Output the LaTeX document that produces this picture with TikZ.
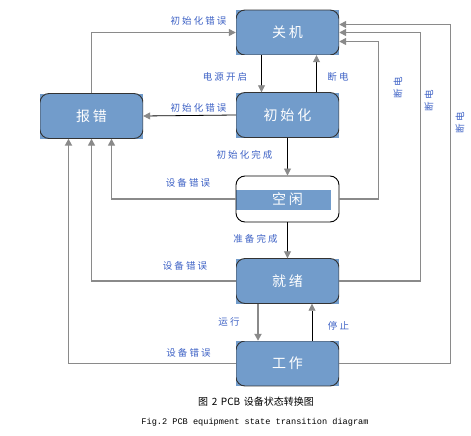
\documentclass[tikz,border=0pt]{standalone}
\usepackage{fontspec}
\setmainfont{Liberation Serif}
\setmonofont{Liberation Mono}
\newfontfamily\cjk[WordSpace=1.6]{Noto Sans CJK SC}
\newfontfamily\boxfont[LetterSpace=20]{Noto Sans CJK SC}
\newfontfamily\labfont[LetterSpace=22]{Noto Sans CJK SC}
\usetikzlibrary{shapes,arrows.meta}
\definecolor{boxblue}{HTML}{729CCB}
\definecolor{labblue}{HTML}{3F63C6}
\definecolor{linegray}{HTML}{8A8A8A}

\tikzset{
  state/.style={rectangle, fill=boxblue, minimum width=103pt, minimum height=45pt,
    inner sep=0pt, text=white, font=\boxfont\fontsize{14}{14}\selectfont,
    path picture={\draw[rounded corners=9pt, line width=0.9pt, black!80]
      (path picture bounding box.south west) rectangle (path picture bounding box.north east);}},
  idle/.style={rectangle, draw=black, line width=0.9pt, rounded corners=9pt,
    minimum width=103pt, minimum height=46pt, inner sep=0pt, text=white,
    font=\boxfont\fontsize{14}{14}\selectfont,
    path picture={\fill[boxblue, sharp corners] ([yshift=9pt]path picture bounding box.west)
      rectangle ([xshift=-8pt,yshift=-11pt]path picture bounding box.east);}},
  lab/.style={text=labblue, font=\labfont\fontsize{9.5}{10}\selectfont, inner sep=0pt},
  graybar/.style={draw=linegray, line width=1.4pt, -{Triangle[width=7pt,length=7pt,color=linegray]}},
  blackbar/.style={draw=black, line width=0.8pt, -{Triangle[width=7pt,length=7pt,color=linegray]}},
}

\begin{document}
\begin{tikzpicture}[x=1pt,y=-1pt]
  \fill[white] (0,0) rectangle (471,436);
  \useasboundingbox (0,0) rectangle (471,436);

  % states
  \node[state] (guanji)   at (287.5,32.5)  {关机};
  \node[state] (chushi)   at (287.5,115)   {初始化};
  \node[state] (baocuo)   at (91.5,116)    {报错};
  \node[idle]  (kongxian) at (287.5,199)   {空闲};
  \node[state] (jiuxu)    at (287.5,281)   {就绪};
  \node[state] (gongzuo)  at (287.5,363.5) {工作};

  % transitions
  \draw[graybar] (baocuo.north) |- (guanji.west);
  \draw[blackbar] ([xshift=-26pt]guanji.south) -- ([xshift=-26pt]chushi.north);
  \draw[blackbar] ([xshift=29pt]chushi.north) -- ([xshift=29pt]guanji.south);
  \draw[blackbar] (chushi.west) -- (baocuo.east);
  \draw[blackbar] (chushi.south) -- (kongxian.north);
  \draw[graybar] (kongxian.west) -| ([xshift=20pt]baocuo.south);
  \draw[graybar] (kongxian.east) -- ++(39,0) |- ([yshift=-9pt]guanji.east);
  \draw[blackbar] (kongxian.south) -- (jiuxu.north);
  \draw[graybar] (jiuxu.west) -| (baocuo.south);
  \draw[graybar] (jiuxu.east) -- ++(81,0) |- (guanji.east);
  \draw[graybar, line width=2pt] ([xshift=-29.5pt]jiuxu.south) -- ([xshift=-29.5pt]gongzuo.north);
  \draw[blackbar] ([xshift=24.5pt]gongzuo.north) -- ([xshift=24.5pt]jiuxu.south);
  \draw[graybar, line width=1.9pt] (gongzuo.west) -| ([xshift=-23pt]baocuo.south);
  \draw[graybar] (gongzuo.east) -- ++(111,0) |- ([yshift=8pt]guanji.east);

  % labels
  \node[lab] (initerr1) at (198.5,21)  {初始化错误};
  \node[lab] (poweron)  at (225,77)    {电源开启};
  \node[lab] (cut1)     at (338,77)    {断电};
  \node[lab] (initerr2) at (198.5,108) {初始化错误};
  \node[lab] (initok)   at (244.5,155) {初始化完成};
  \node[lab] (deverr1)  at (188,183)   {设备错误};
  \node[lab] (ready)    at (255.5,239) {准备完成};
  \node[lab] (deverr2)  at (185,266)   {设备错误};
  \node[lab] (run)      at (229,322)   {运行};
  \node[lab] (stop)     at (338.5,326) {停止};
  \node[lab] (deverr3)  at (188.5,353) {设备错误};
  \node[lab, rotate=90] (cut2) at (398,88)  {断电};
  \node[lab, rotate=90] (cut3) at (429,101) {断电};
  \node[lab, rotate=90] (cut4) at (460,123) {断电};

  % caption
  \node[font=\cjk\fontsize{10}{10}\selectfont] (captcn) at (256,402) {图 2 PCB 设备状态转换图};
  \node[font=\ttfamily\fontsize{8.6}{10}\selectfont] (capten) at (255,422) {Fig.2 PCB equipment state transition diagram};
\end{tikzpicture}
\end{document}
